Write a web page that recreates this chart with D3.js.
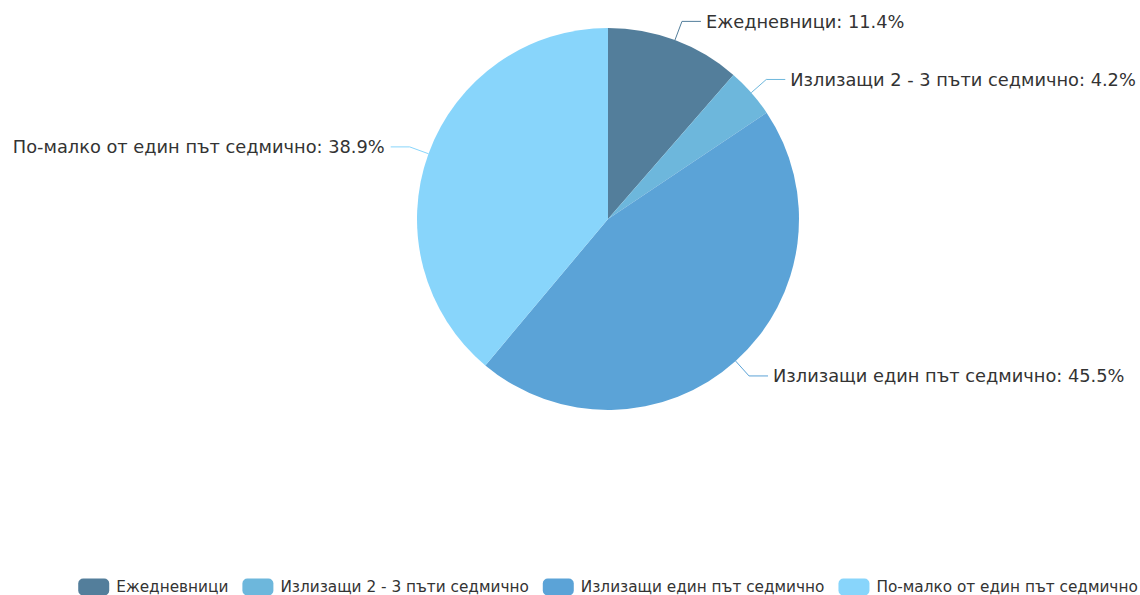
<!DOCTYPE html>
<html>
<head>
<meta charset="utf-8">
<script src="https://cdn.jsdelivr.net/npm/d3@7"></script>
<style>
  body { margin: 0; background: #fff; }
  text { font-family: "DejaVu Sans", sans-serif; }
</style>
</head>
<body>
<svg id="chart"></svg>
<script>
// data
const categories = ['Ежедневници', 'Излизащи 2 - 3 пъти седмично', 'Излизащи един път седмично', 'По-малко от един път седмично'];
const values = [11.4, 4.2, 45.5, 38.9];
const colors = ['#537e9b', '#6db7dc', '#5ba3d7', '#88d5fb'];

const width = 1140;
const height = 595;
const cx = 608;
const cy = 219;
const radius = 191;

const svg = d3.select('#chart')
  .attr('width', width)
  .attr('height', height);

const data = categories.map((c, i) => ({ name: c, value: values[i], color: colors[i] }));

const pie = d3.pie()
  .sort(null)
  .value(d => d.value);

const arc = d3.arc()
  .innerRadius(0)
  .outerRadius(radius);

const arcs = pie(data);

const g = svg.append('g')
  .attr('transform', `translate(${cx}, ${cy})`);

g.selectAll('.slice')
  .data(arcs)
  .enter()
  .append('path')
  .attr('class', 'slice')
  .attr('d', arc)
  .attr('fill', d => d.data.color);

// labels with two-segment leader lines
const len1 = 20;
const len2 = 19;

arcs.forEach(d => {
  const mid = (d.startAngle + d.endAngle) / 2;
  const sx = Math.sin(mid), sy = -Math.cos(mid);
  const p0 = [sx * radius, sy * radius];
  const p1 = [sx * (radius + len1), sy * (radius + len1)];
  const right = sx >= 0;
  const p2 = [p1[0] + (right ? len2 : -len2), p1[1]];

  g.append('polyline')
    .attr('points', [p0, p1, p2].map(p => p.join(',')).join(' '))
    .attr('fill', 'none')
    .attr('stroke', d.data.color)
    .attr('stroke-width', 1);

  g.append('text')
    .attr('x', p2[0] + (right ? 5 : -6))
    .attr('y', p2[1])
    .attr('dy', '0.35em')
    .attr('text-anchor', right ? 'start' : 'end')
    .attr('font-size', 17.8)
    .attr('fill', '#333')
    .text(`${d.data.name}: ${d.data.value}%`);
});

// legend along the bottom, centred
const legend = svg.append('g')
  .attr('id', 'legend');

const iconW = 31, iconH = 17, gapText = 7, gapItem = 14;
let x = 0;
data.forEach(d => {
  const item = legend.append('g');
  item.append('rect')
    .attr('width', iconW)
    .attr('height', iconH)
    .attr('rx', 5)
    .attr('y', -iconH / 2)
    .attr('fill', d.color);
  const t = item.append('text')
    .attr('x', iconW + gapText)
    .attr('dy', '0.35em')
    .attr('font-size', 15.3)
    .attr('fill', '#333')
    .text(d.name);
  const w = iconW + gapText + t.node().getComputedTextLength();
  item.attr('transform', `translate(${x}, 0)`);
  x += w + gapItem;
});
const total = x - gapItem;
legend.attr('transform', `translate(${cx - total / 2}, 587)`);
</script>
</body>
</html>
